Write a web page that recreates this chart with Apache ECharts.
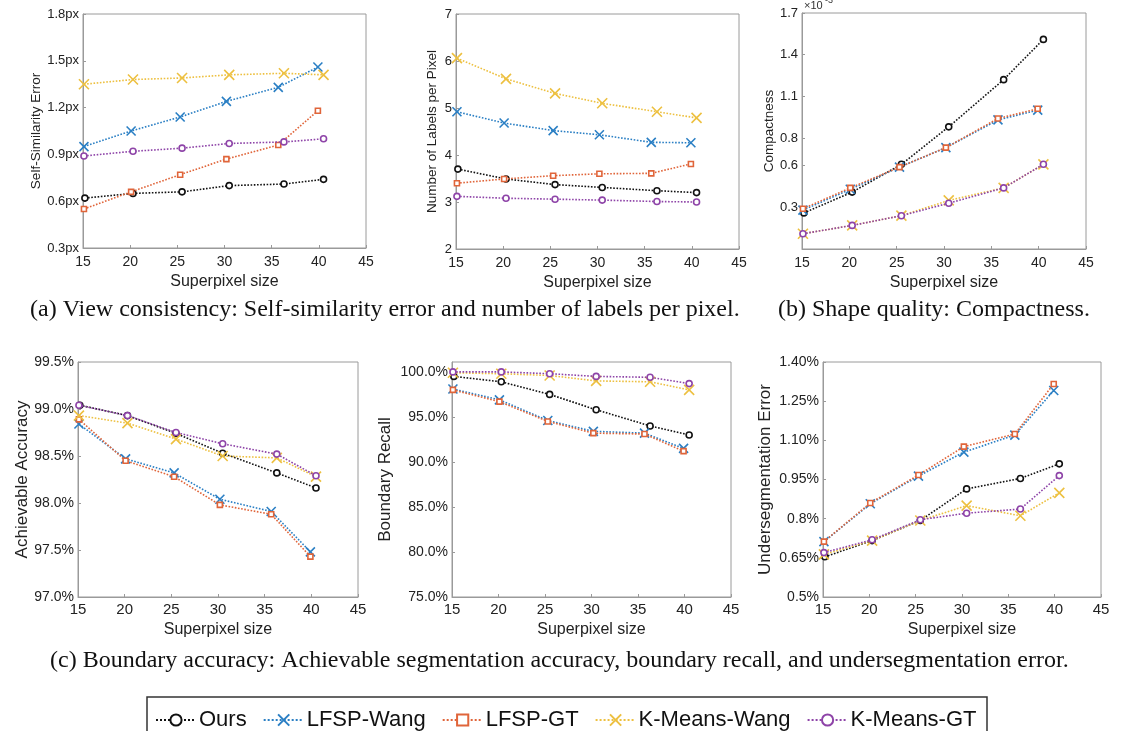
<!DOCTYPE html>
<html><head><meta charset="utf-8">
<script src="https://cdn.jsdelivr.net/npm/echarts@6/dist/echarts.min.js"></script>
<style>html,body{margin:0;padding:0;background:#fff}#c{width:1125px;height:731px}</style>
</head><body><div id="c"></div>
<script>
// ---- data ----
const methods = ['Ours', 'LFSP-Wang', 'LFSP-GT', 'K-Means-Wang', 'K-Means-GT'];
// superpixel sizes (x) per method
const xOurs = [15.2, 20.3, 25.5, 30.5, 36.3, 40.5];
const xLfspWang = [15.1, 20.1, 25.3, 30.2, 35.7, 39.9];
const xLfspGt = [15.1, 20.1, 25.3, 30.2, 35.7, 39.9];
const xKmWang = [15.1, 20.3, 25.5, 30.5, 36.3, 40.5];
const xKmGt = [15.1, 20.3, 25.5, 30.5, 36.3, 40.5];

// Self-similarity error (px)
const ssOurs = [0.62, 0.65, 0.66, 0.70, 0.71, 0.74];
const ssLfspWang = [0.95, 1.05, 1.14, 1.24, 1.33, 1.46];
const ssLfspGt = [0.55, 0.66, 0.77, 0.87, 0.96, 1.18];
const ssKmWang = [1.35, 1.38, 1.39, 1.41, 1.42, 1.41];
const ssKmGt = [0.89, 0.92, 0.94, 0.97, 0.98, 1.00];
// Number of labels per pixel
const nlOurs = [3.70, 3.49, 3.37, 3.31, 3.24, 3.20];
const nlLfspWang = [4.92, 4.68, 4.52, 4.43, 4.27, 4.26];
const nlLfspGt = [3.40, 3.49, 3.56, 3.60, 3.61, 3.81];
const nlKmWang = [6.06, 5.62, 5.31, 5.10, 4.92, 4.79];
const nlKmGt = [3.12, 3.08, 3.06, 3.04, 3.01, 3.00];
// Compactness (x1e-3)
const cpOurs = [0.26, 0.41, 0.61, 0.88, 1.22, 1.51];
const cpLfspWang = [0.28, 0.43, 0.59, 0.73, 0.93, 1.00];
const cpLfspGt = [0.29, 0.44, 0.59, 0.73, 0.94, 1.01];
const cpKmWang = [0.11, 0.17, 0.24, 0.35, 0.44, 0.61];
const cpKmGt = [0.11, 0.17, 0.24, 0.33, 0.44, 0.61];
// Achievable accuracy (%)
const aaOurs = [99.04, 98.93, 98.74, 98.53, 98.32, 98.16];
const aaLfspWang = [98.84, 98.47, 98.32, 98.04, 97.91, 97.48];
const aaLfspGt = [98.89, 98.45, 98.28, 97.98, 97.88, 97.43];
const aaKmWang = [98.93, 98.85, 98.68, 98.50, 98.48, 98.28];
const aaKmGt = [99.04, 98.93, 98.75, 98.63, 98.52, 98.29];
// Boundary recall (%)
const brOurs = [99.5, 98.9, 97.5, 95.8, 94.0, 93.0];
const brLfspWang = [98.1, 96.9, 94.6, 93.4, 93.2, 91.5];
const brLfspGt = [98.0, 96.7, 94.5, 93.2, 93.1, 91.2];
const brKmWang = [99.9, 99.8, 99.6, 99.0, 98.9, 98.0];
const brKmGt = [100.0, 100.0, 99.8, 99.5, 99.4, 98.7];
// Undersegmentation error (%)
const ueOurs = [0.654, 0.716, 0.793, 0.914, 0.954, 1.010];
const ueLfspWang = [0.712, 0.857, 0.963, 1.055, 1.120, 1.291];
const ueLfspGt = [0.712, 0.860, 0.967, 1.076, 1.124, 1.316];
const ueKmWang = [0.663, 0.716, 0.793, 0.850, 0.811, 0.899];
const ueKmGt = [0.670, 0.719, 0.796, 0.821, 0.837, 0.965];

// tick values & labels
const xTicks = [15, 20, 25, 30, 35, 40, 45];
const ssTicks = [0.3, 0.6, 0.9, 1.2, 1.5, 1.8];
const ssLabels = ['0.3px', '0.6px', '0.9px', '1.2px', '1.5px', '1.8px'];
const nlTicks = [2, 3, 4, 5, 6, 7];
const nlLabels = ['2', '3', '4', '5', '6', '7'];
const cpTicks = [0.3, 0.6, 0.8, 1.1, 1.4, 1.7];
const cpLabels = ['0.3', '0.6', '0.8', '1.1', '1.4', '1.7'];
const aaTicks = [97.0, 97.5, 98.0, 98.5, 99.0, 99.5];
const aaLabels = ['97.0%', '97.5%', '98.0%', '98.5%', '99.0%', '99.5%'];
const brTicks = [75, 80, 85, 90, 95, 100];
const brLabels = ['75.0%', '80.0%', '85.0%', '90.0%', '95.0%', '100.0%'];
const ueTicks = [0.5, 0.65, 0.8, 0.95, 1.1, 1.25, 1.4];
const ueLabels = ['0.5%', '0.65%', '0.8%', '0.95%', '1.10%', '1.25%', '1.40%'];

// ---- assembly ----
const xs = [xOurs, xLfspWang, xLfspGt, xKmWang, xKmGt];
const colors = ['#111111', '#2a7fc4', '#e0653a', '#edc040', '#8e44a8'];
const XPATH = 'path://M0,0L10,10M10,0L0,10';
const symbols = ['circle', XPATH, 'rect', XPATH, 'circle'];
const symSizes = [6, 9, 5, 10, 6];
const fills = ['#fff', 'none', '#fff', 'none', '#fff'];

const plots = [
  {grid:{left:83, top:14, width:283, height:234}, vals:[ssOurs,ssLfspWang,ssLfspGt,ssKmWang,ssKmGt], min:0.3, max:1.8, ticks:ssTicks, labels:ssLabels, name:'Self-Similarity Error', nameGap:37, nameSize:13.5, lblSize:13},
  {grid:{left:456, top:14, width:283, height:235}, vals:[nlOurs,nlLfspWang,nlLfspGt,nlKmWang,nlKmGt], min:2, max:7, ticks:nlTicks, labels:nlLabels, name:'Number of Labels per Pixel', nameGap:17, nameSize:13.5, lblSize:13},
  {grid:{left:802, top:13, width:284, height:236}, vals:[cpOurs,cpLfspWang,cpLfspGt,cpKmWang,cpKmGt], min:0, max:1.7, ticks:cpTicks, labels:cpLabels, name:'Compactness', nameGap:23, nameSize:13.5, lblSize:13},
  {grid:{left:78, top:362, width:280, height:235}, vals:[aaOurs,aaLfspWang,aaLfspGt,aaKmWang,aaKmGt], min:97, max:99.5, ticks:aaTicks, labels:aaLabels, name:'Achievable Accuracy', nameGap:47, nameSize:17, lblSize:14},
  {grid:{left:452, top:362, width:279, height:235}, vals:[brOurs,brLfspWang,brLfspGt,brKmWang,brKmGt], min:75, max:101.1, ticks:brTicks, labels:brLabels, name:'Boundary Recall', nameGap:58, nameSize:17, lblSize:14},
  {grid:{left:823, top:362, width:278, height:235}, vals:[ueOurs,ueLfspWang,ueLfspGt,ueKmWang,ueKmGt], min:0.5, max:1.4, ticks:ueTicks, labels:ueLabels, name:'Undersegmentation Error', nameGap:49, nameSize:17, lblSize:14}
];

const FONT = 'Liberation Sans, Arial, Helvetica, sans-serif';
const SERIF = '24px "Liberation Serif", "Times New Roman", serif';
const axisCol = '#9a9a9a';
const grids = [], xAxes = [], yAxes = [], series = [];
plots.forEach((p, pi) => {
  grids.push(Object.assign({show:true, borderColor:axisCol, borderWidth:1, backgroundColor:'#fff'}, p.grid));
  xAxes.push({
    type:'value', gridIndex:pi, min:15, max:45, interval:5,
    name:'Superpixel size', nameLocation:'middle', nameGap: pi < 3 ? 26 : 25,
    nameTextStyle:{fontSize:16, color:'#222', fontFamily:FONT},
    axisLine:{show:true, lineStyle:{color:axisCol}},
    axisTick:{show:true, inside:true, length:3, lineStyle:{color:axisCol}},
    axisLabel:{customValues:xTicks, fontSize:p.lblSize+1, color:'#222', fontFamily:FONT, margin: pi<3 ? 7 : 5},
    splitLine:{show:false}
  });
  yAxes.push({
    type:'value', gridIndex:pi, min:p.min, max:p.max,
    name:p.name, nameLocation:'middle', nameGap:p.nameGap,
    nameTextStyle:{fontSize:p.nameSize, color:'#222', fontFamily:FONT},
    axisLine:{show:true, lineStyle:{color:axisCol}},
    axisTick:{show:true, inside:true, length:3, customValues:p.ticks, lineStyle:{color:axisCol}},
    axisLabel:{customValues:p.ticks, fontSize:p.lblSize, color:'#222', fontFamily:FONT, margin:4,
      formatter:(v) => { let k = p.ticks.findIndex(t => Math.abs(t - v) < 1e-6); return k >= 0 ? p.labels[k] : ''; }},
    splitLine:{show:false}
  });
  methods.forEach((m, mi) => {
    series.push({
      type:'line', name:m, xAxisIndex:pi, yAxisIndex:pi,
      data: xs[mi].map((x, i) => [x, p.vals[mi][i]]),
      symbol:symbols[mi], symbolSize:symSizes[mi], showAllSymbol:true,
      color:colors[mi],
      lineStyle:{type:'dotted', width:1.6, color:colors[mi]},
      itemStyle:{color:fills[mi], borderColor:colors[mi], borderWidth:1.6},
      emphasis:{disabled:true}, animation:false, z: 2 + mi
    });
  });
});

const chart = echarts.init(document.getElementById('c'), null, {renderer:'canvas'});
chart.setOption({
  backgroundColor:'#fff',
  animation:false,
  grid:grids, xAxis:xAxes, yAxis:yAxes, series:series,
  legend:{
    data:methods, left:150, top:704, itemWidth:40, itemHeight:14, itemGap:16,
    textStyle:{fontSize:22, color:'#111', fontFamily:FONT, padding:[0,0,0,-2]},
    selectedMode:false
  },
  graphic:[
    {type:'text', left:30, top:298, style:{text:'(a) View consistency: Self-similarity error and number of labels per pixel.', font:SERIF, fill:'#111'}},
    {type:'text', left:778, top:298, style:{text:'(b) Shape quality: Compactness.', font:SERIF, fill:'#111'}},
    {type:'text', left:50, top:649, style:{text:'(c) Boundary accuracy: Achievable segmentation accuracy, boundary recall, and undersegmentation error.', font:SERIF, fill:'#111'}},
    {type:'text', left:804, top:0, style:{text:'×10', font:'11px "Liberation Sans", Arial, sans-serif', fill:'#333'}},
    {type:'text', left:825, top:-4, style:{text:'-3', font:'9px "Liberation Sans", Arial, sans-serif', fill:'#333'}},
    {type:'rect', shape:{x:147, y:697, width:840, height:60}, style:{fill:'none', stroke:'#333', lineWidth:1.5}, z:-1}
  ]
});
</script></body></html>
